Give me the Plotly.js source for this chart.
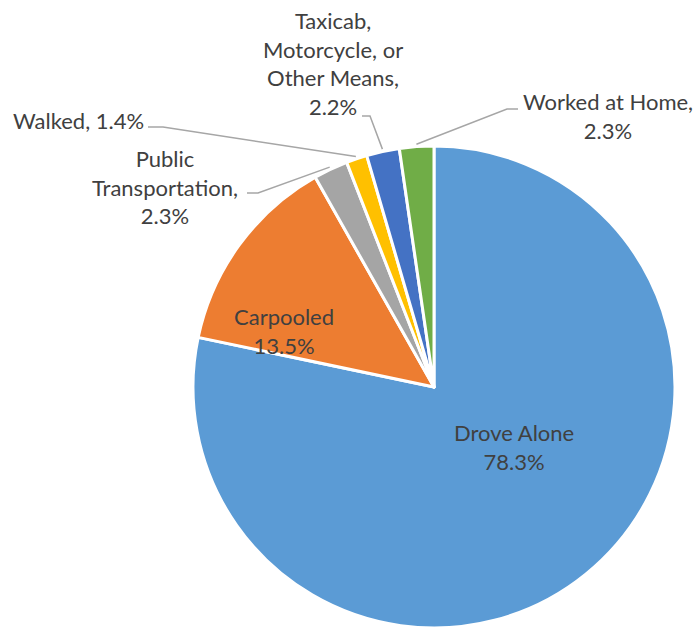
<!DOCTYPE html>
<html>
<head>
<meta charset="utf-8">
<script src="https://cdn.plot.ly/plotly-3.0.1.min.js"></script>
<style>html,body{margin:0;padding:0;background:#fff}#chart{width:696px;height:629px}</style>
</head>
<body>
<div id="chart"></div>
<script>
// Data
const categories = ["Drove Alone", "Carpooled", "Public Transportation", "Walked", "Taxicab, Motorcycle, or Other Means", "Worked at Home"];
const values = [78.3, 13.5, 2.3, 1.4, 2.2, 2.3];
const labelTexts = ["Drove Alone<br>78.3%", "Carpooled<br>13.5%", "Public<br>Transportation,<br>2.3%", "Walked, 1.4%", "Taxicab,<br>Motorcycle, or<br>Other Means,<br>2.2%", "Worked at Home,<br>2.3%"];
const colors = ["#5B9BD5", "#ED7D31", "#A5A5A5", "#FFC000", "#4472C4", "#70AD47"];

// Layout (pixels)
const W = 696, H = 629;
const CX = 434, CY = 387, R = 241;
const labelPos = [[514, 447], [284, 331], [165, 187], [78, 121], [333, 64], [608, 116]];
// leader lines: [start, elbow] in px, null for inside labels
const leaders = [null, null, [[247,193],[258,193]], [[148,127],[163,127]], [[362,116],[370,116]], [[518,109],[507,109]]];

const px2x = x => x / W;
const px2y = y => 1 - y / H;

const total = values.reduce((a, b) => a + b, 0);
let cum = 0;
const mids = values.map(v => { const m = (cum + v / 2) / total; cum += v; return m; });

const annotations = labelTexts.map((t, i) => ({
  text: t, x: px2x(labelPos[i][0]), y: px2y(labelPos[i][1]), xref: 'paper', yref: 'paper',
  xanchor: 'center', yanchor: 'middle', showarrow: false, align: 'center',
  font: {family: 'Lato, sans-serif', size: 22, color: '#404040'}
}));

const shapes = [];
leaders.forEach((l, i) => {
  if (!l) return;
  const th = 2 * Math.PI * mids[i];
  const ex = CX + R * 1.01 * Math.sin(th), ey = CY - R * 1.01 * Math.cos(th);
  shapes.push({
    type: 'path', xref: 'paper', yref: 'paper',
    path: `M ${px2x(l[0][0])} ${px2y(l[0][1])} L ${px2x(l[1][0])} ${px2y(l[1][1])} L ${px2x(ex)} ${px2y(ey)}`,
    line: {color: '#A6A6A6', width: 1.5}
  });
});

const trace = {
  type: 'pie', labels: categories, values: values, sort: false, direction: 'clockwise', rotation: 0,
  marker: {colors: colors, line: {color: '#FFFFFF', width: 3}},
  textinfo: 'none', hoverinfo: 'label+percent', showlegend: false,
  domain: {x: [(CX - R) / W, (CX + R) / W], y: [1 - (CY + R) / H, 1 - (CY - R) / H]}
};

Plotly.newPlot('chart', [trace], {
  width: W, height: H, margin: {l: 0, r: 0, t: 0, b: 0},
  paper_bgcolor: '#fff', showlegend: false, annotations: annotations, shapes: shapes
}, {displayModeBar: false, staticPlot: true});
</script>
</body>
</html>
